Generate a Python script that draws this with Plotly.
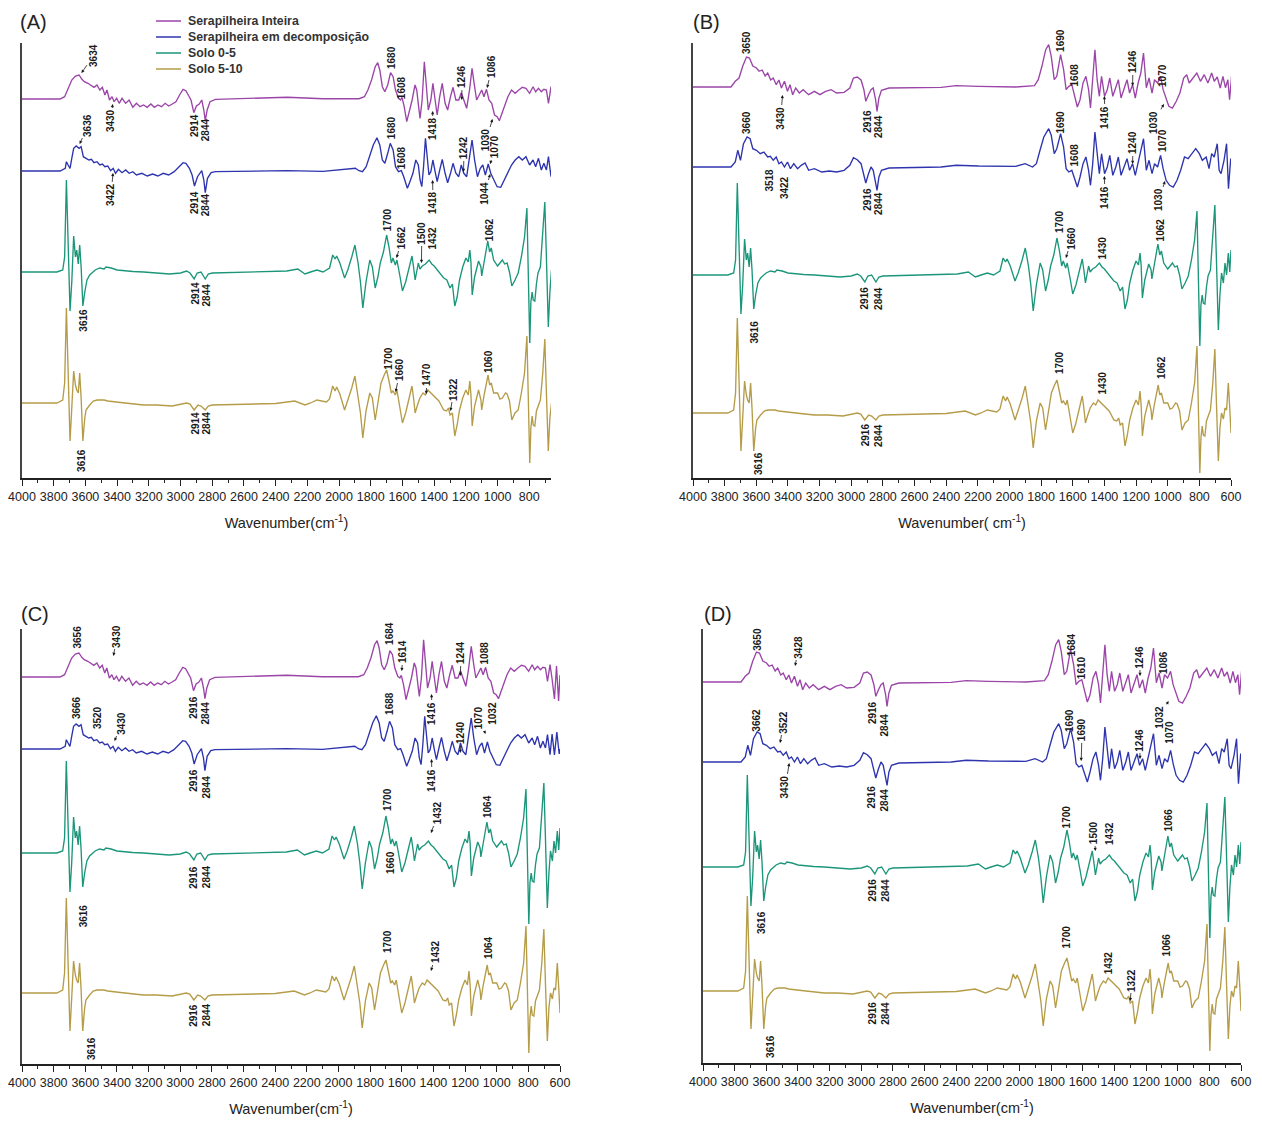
import plotly.graph_objects as go

# ---------------- data (wavenumber in cm-1, derivative intensity in arbitrary units) ----------------
SERIES = ["Serapilheira Inteira", "Serapilheira em decomposição", "Solo 0-5", "Solo 5-10"]

WN_PURPLE_A = [4000, 3760, 3731, 3709, 3686, 3663, 3640, 3622, 3607, 3584,
               3562, 3546, 3527, 3509, 3493, 3477, 3464, 3448, 3432, 3419,
               3403, 3387, 3369, 3346, 3324, 3301, 3278, 3256, 3233, 3210,
               3187, 3165, 3143, 3120, 3097, 3075, 3052, 3029, 3006, 2984,
               2966, 2950, 2934, 2916, 2900, 2882, 2866, 2853, 2844, 2832,
               2814, 2780, 2553, 2327, 2101, 1874, 1840, 1818, 1795, 1772,
               1756, 1743, 1727, 1711, 1693, 1675, 1659, 1644, 1625, 1612,
               1603, 1589, 1573, 1557, 1539, 1521, 1510, 1498, 1489, 1476,
               1462, 1449, 1437, 1421, 1408, 1394, 1381, 1365, 1349, 1331,
               1315, 1297, 1281, 1263, 1245, 1229, 1213, 1195, 1177, 1161,
               1145, 1132, 1116, 1100, 1086, 1070, 1054, 1037, 1019, 1003,
               989, 975, 959, 935, 912, 889, 866, 844, 821, 798,
               776, 760, 742, 724, 708, 692, 679, 663, 650, 635,
               622, 609, 600]
Y_PURPLE_A = [0, 0, 2.3, 10.7, 19, 23, 24, 19.7, 17.3, 15.7,
              13, 11.7, 14, 9, 11.7, 4, 9, -1, 2.3, -2.7,
              0.7, -4.3, 0.7, -4.3, -1, -8.3, -4.3, -7.7, -6, -8.3,
              -5, -8.3, -6, -7.7, -4.3, -7, -5, -2.7, 4, 9.7,
              8.3, 4, -1, -13.7, -7, -5, -1, -11, -21.7, -11,
              -2.7, -0.3, 0.7, 1.7, 0.3, 0.3, 2.3, 9, 19, 32.3,
              36.3, 29, 12.3, 7.3, 14, 26.3, 22.3, 9, 0.7, -1,
              1.7, -7.7, -22.7, -12.7, -1, 14, 9, -7.7, -19.3, -1,
              37.3, 12.3, -11, -1, 15.7, -1, -16, 2.3, 15.7, -4.3,
              -11, 2.3, 11.7, -1, -1, 6.3, -1, -9.3, 9, 30.7,
              12.3, -1, 4, 9, 2.3, 9.7, -1, -4.3, -16, -17.7,
              -21.7, -16, -7.7, 2.3, 9, 5.7, 9, 11.7, 10.7, 5.7,
              12.3, 7.3, 10.7, 7.3, 9.7, 9, -4.3, 12.3, -2, -22,
              11, -24, 2]

WN_BLUE_A = [4000, 3760, 3727, 3720, 3709, 3697, 3686, 3674, 3658, 3640,
             3627, 3613, 3596, 3578, 3562, 3546, 3527, 3509, 3493, 3477,
             3459, 3441, 3425, 3410, 3392, 3369, 3346, 3324, 3301, 3278,
             3244, 3210, 3176, 3143, 3109, 3075, 3040, 3006, 2984, 2966,
             2944, 2927, 2912, 2893, 2878, 2866, 2853, 2844, 2830, 2807,
             2780, 2553, 2327, 2101, 1920, 1897, 1874, 1852, 1829, 1806,
             1784, 1761, 1743, 1727, 1711, 1693, 1677, 1659, 1644, 1625,
             1607, 1592, 1569, 1553, 1534, 1516, 1500, 1489, 1478, 1467,
             1455, 1444, 1433, 1421, 1408, 1394, 1381, 1365, 1349, 1331,
             1315, 1297, 1281, 1263, 1245, 1229, 1213, 1195, 1177, 1161,
             1145, 1127, 1109, 1093, 1077, 1059, 1043, 1025, 1003, 980,
             957, 935, 912, 889, 866, 844, 821, 798, 776, 760,
             742, 724, 708, 692, 679, 663, 650, 635, 620, 605,
             600]
Y_BLUE_A = [0, 0, 2.7, 9.3, 6, 2.7, 12.7, 22.7, 25, 22.7,
            24.3, 14.3, 12.7, 11, 11.7, 8.3, 9.3, 6, 7, 4.3,
            5, 0.3, 2.7, -2.3, 1.7, -1.7, 1, -2.3, -0.7, -4,
            -2.3, -5, -3, -5, -2.3, -4, -0.7, 4.3, 8.3, 7.7,
            2.7, -4, -15, -5.7, -2.3, 0.3, -9, -21.7, -7.3, -1.7,
            -0.7, -0.3, 0.3, -0.3, 1.7, 2.7, 0.3, -0.7, 4.3, 14.3,
            26, 33.3, 26, 11, 7.7, 17.7, 27.7, 21, 4.3, -0.7,
            0.3, -5.7, -17.3, -10.7, -2.3, 11, 6, -9, -15.7, 4.3,
            32.7, 14.3, -4, -0.7, 11, -0.7, -10.7, 1, 11.7, -2.3,
            -11.7, -2.3, 7.7, -2.3, -5.7, 6, -2.3, -5.7, 14.3, 31,
            11, -5.7, 2.7, 6, -4, 7, -2.3, -9, -15.7, -16.3,
            -9, -0.7, 6, 11, 14.3, 11, 14.3, 6, 11, 4.3,
            12.7, 1, 7.7, 1, 14.3, -5.7, 15, -6, 17, -5,
            0]

WN_PURPLE_B = [4000, 3760, 3733, 3709, 3686, 3662, 3643, 3622, 3599, 3582,
               3563, 3544, 3528, 3509, 3493, 3474, 3457, 3441, 3422, 3403,
               3387, 3370, 3351, 3328, 3304, 3269, 3233, 3198, 3162, 3127,
               3092, 3045, 3009, 2986, 2962, 2938, 2920, 2908, 2891, 2875,
               2861, 2846, 2837, 2825, 2809, 2762, 2432, 2337, 2196, 1960,
               1842, 1818, 1795, 1771, 1752, 1736, 1717, 1701, 1677, 1658,
               1642, 1625, 1606, 1587, 1571, 1554, 1535, 1517, 1500, 1488,
               1474, 1460, 1446, 1432, 1418, 1399, 1382, 1366, 1347, 1328,
               1312, 1295, 1276, 1257, 1241, 1222, 1205, 1187, 1170, 1153,
               1135, 1118, 1099, 1083, 1064, 1045, 1029, 1010, 993, 970,
               946, 923, 899, 880, 864, 840, 816, 793, 769, 746,
               722, 706, 687, 668, 651, 635, 620, 609, 592]
Y_PURPLE_B = [0, 0, 5.7, 9, 20.7, 30, 29, 21, 19, 15.7,
              17, 11, 14, 7, 9, 2.3, 7, -1, 5.7, -4.3,
              2.3, -7.7, -1, -6, -2.7, -7.7, -4.3, -7.7, -4.3, -2.7,
              -6, -5.3, -1, 9, 10, 7, -2.7, -14.3, -7.7, -2.7,
              -1, -12.7, -24.3, -11, -3.3, -1, -0.3, 1.3, 0.7, 0,
              1.3, 7.3, 20.7, 37.3, 42.3, 30.7, 7.3, 10.7, 32.3, 17.3,
              -2.7, 0.7, 2.3, -11, -20, -12.7, 4, 10.7, -2.7, -21,
              4, 37.3, 7.3, -9.3, 10.7, -9.3, -2.7, 9, -9.3, -1,
              7.3, -11, -2.7, 7.3, -6, 2.3, -11, 4, 14, 34,
              -0.7, 9, -6, 7.3, 4, 10.7, -2.7, -12.7, -19.3, -21,
              -14.3, -6, 9, 12.3, 4, 9, 14, 5.7, 12.3, 4,
              14, 5.7, 10, -1, 10.7, -0.7, 7.3, -12.7, 19]

WN_BLUE_B = [4000, 3760, 3733, 3717, 3700, 3681, 3658, 3639, 3622, 3599,
             3575, 3552, 3528, 3511, 3493, 3474, 3457, 3441, 3422, 3403,
             3384, 3363, 3339, 3316, 3292, 3269, 3233, 3186, 3139, 3092,
             3045, 3009, 2986, 2962, 2938, 2920, 2908, 2891, 2875, 2861,
             2846, 2837, 2825, 2809, 2762, 2432, 2337, 2196, 1960, 1901,
             1854, 1830, 1807, 1783, 1752, 1736, 1717, 1701, 1677, 1658,
             1642, 1625, 1606, 1587, 1571, 1554, 1535, 1517, 1500, 1488,
             1474, 1460, 1446, 1432, 1418, 1399, 1382, 1366, 1347, 1328,
             1312, 1295, 1276, 1257, 1241, 1222, 1205, 1187, 1170, 1153,
             1135, 1118, 1099, 1083, 1064, 1045, 1029, 1010, 988, 965,
             941, 918, 894, 871, 847, 823, 800, 781, 757, 739,
             722, 706, 687, 675, 663, 644, 628, 616, 602, 588]
Y_BLUE_B = [0, 0, 5, 16.7, 6.7, 23.3, 30, 28.3, 18.3, 16.7,
            13.3, 15, 10, 10.7, 6.7, 10, 3.3, 5, 0, 5,
            -1.7, 3.3, -1.7, 1.7, 4, -3.3, -1.7, -5, -4, -5,
            -3.3, 1.7, 9.3, 7.3, 3.3, -6.7, -16, -6.7, 0, -3.3,
            -15, -23.3, -10, -3.3, -1, 0, 1.7, 1, 0.7, 3.3,
            0, 3.3, 16.7, 30, 38.3, 31.7, 13.3, 18.3, 33.3, 20,
            -1.7, -5, -3.3, -11.7, -20, -10, 3.3, 10, -3.3, -18.3,
            3.3, 35, 10, -6.7, 13.3, -6.7, 0, 11.7, -8.3, 0,
            10, -8.3, 0, 8.3, -3.3, 3.3, -8.3, 3.3, 15, 28.3,
            -3.3, 6.7, -6.7, 3.3, 0, 11.7, -1.7, -13.3, -18.3, -20,
            -13.3, -3.3, 10, 8.3, 13.3, 18.3, 13.3, 6.7, 10, -1.7,
            13.3, 10, 23.3, -3.3, -6.7, 6.7, 23.3, -21.7, 8.3, 6.7]

WN_SOIL_05 = [4000, 3780, 3743, 3731, 3720, 3709, 3697, 3686, 3674, 3663,
              3655, 3645, 3636, 3627, 3616, 3604, 3590, 3573, 3550, 3538,
              3510, 3482, 3470, 3437, 3400, 3350, 3300, 3233, 3150, 3070,
              3000, 2962, 2940, 2914, 2895, 2871, 2844, 2825, 2800, 2600,
              2400, 2330, 2260, 2215, 2180, 2140, 2101, 2060, 2040, 2025,
              2015, 1995, 1965, 1945, 1920, 1900, 1880, 1865, 1850, 1830,
              1806, 1790, 1772, 1755, 1740, 1720, 1700, 1685, 1670, 1660,
              1645, 1635, 1615, 1600, 1580, 1560, 1540, 1530, 1520, 1500,
              1490, 1475, 1455, 1432, 1415, 1400, 1370, 1340, 1320, 1300,
              1285, 1270, 1255, 1240, 1220, 1200, 1185, 1175, 1168, 1160,
              1145, 1120, 1105, 1100, 1085, 1062, 1050, 1040, 1025, 1000,
              985, 970, 955, 940, 925, 910, 890, 870, 850, 830,
              815, 806, 797, 790, 782, 775, 765, 755, 745, 730,
              715, 702, 692, 680, 670, 660, 648, 638, 628, 617,
              608, 600]
Y_SOIL_05 = [0, 0, 2, 15, 92, 40, -39, -10, 36, 15,
             22, 8, 27, 5, -34, -20, -8, -3, 1, 2,
             4, 3, 5, 4, 2, 1, 0.5, 0, -1, -2,
             -1, 1, -1, -7, -1, 0, -7, -2, -1, 0,
             0.5, 1, 3, -2, 0, 2, 0, 4, 17, 13,
             16, 9, -6, 2, 15, 27, 9, -10, -36, -10,
             12, 5, -16, -5, 9, 20, 37, 25, 9, 14,
             7, 12, -5, -19, -10, 2, 16, 5, -8, 9,
             3, 6, 8, 12, 8, 6, 0, -6, -8, -16,
             -12, -34, -25, -8, 5, 14, 10, 22, 10, -23,
             -5, 11, 5, -4, 10, 31, 20, 24, 12, 6,
             9, 12, 8, 9, 0, -14, -8, -1, 15, 35,
             64, 10, -71, -30, -20, -28, -29, -12, -1, 5,
             35, 70, 15, -55, -20, 2, -8, 12, 0, 22,
             3, 25]

WN_SOIL_510 = [4000, 3780, 3743, 3731, 3720, 3709, 3697, 3686, 3674, 3663,
               3655, 3645, 3636, 3627, 3616, 3604, 3596, 3573, 3550, 3527,
               3505, 3482, 3459, 3437, 3400, 3350, 3233, 3150, 3052, 2962,
               2940, 2914, 2890, 2871, 2844, 2825, 2800, 2600, 2400, 2280,
               2215, 2180, 2140, 2080, 2060, 2040, 2025, 2015, 1995, 1965,
               1945, 1920, 1900, 1880, 1865, 1850, 1830, 1806, 1790, 1772,
               1755, 1735, 1715, 1700, 1685, 1670, 1660, 1645, 1635, 1615,
               1600, 1580, 1560, 1540, 1530, 1520, 1505, 1490, 1470, 1455,
               1440, 1420, 1400, 1370, 1340, 1322, 1310, 1300, 1285, 1270,
               1255, 1240, 1220, 1200, 1185, 1175, 1168, 1160, 1145, 1120,
               1105, 1100, 1085, 1060, 1050, 1040, 1025, 1000, 985, 970,
               950, 940, 925, 910, 890, 870, 850, 830, 815, 806,
               797, 790, 782, 775, 765, 755, 745, 730, 715, 702,
               692, 680, 670, 660, 648, 638, 628, 617, 608, 600]
Y_SOIL_510 = [0, 0, 3, 20, 95, 40, -38, -5, 32, 18,
              13, 10, 30, 5, -38, -15, -7, -2, 2, 3,
              3, 3, 2, 1.5, 1, 0, -2, -2, -3, 0,
              -1, -7, -2, -3, -7, -3, -2, -1, -0.5, 2,
              -2, 0, 3, 1, 4, 17, 12, 16, 9, -7,
              2, 15, 27, 8, -10, -35, -8, 10, 5, -17,
              0, 20, 28, 33, 22, 10, 12, 8, 13, -5,
              -20, -10, 3, 17, 5, -10, -2, 5, 10, 8,
              13, 10, 7, 2, -7, -8, -5, -12, -10, -33,
              -22, -7, 5, 13, 8, 22, 8, -23, -3, 13,
              3, -7, 8, 28, 18, 20, 10, 10, 4, 5,
              10, 9, 2, -17, -10, -7, 10, 30, 67, 10,
              -60, -25, -13, -22, -23, -8, -3, 3, 30, 64,
              10, -48, -15, 0, -6, 5, 3, 30, 5, -20]

# peak labels: (text, label wavenumber, label height, arrow-tip wavenumber, arrow-tip height)
LABELS_A = [
    ("3634", 3546, 423, 3625, 405), ("3430", 3438, 357, 3428, 374), ("2914", 2909, 353, None, None),
    ("2844", 2838, 348, None, None), ("1680", 1666, 420, None, None), ("1608", 1602, 390, None, None),
    ("1418", 1407, 349, 1410, 367), ("1246", 1224, 401, 1226, 378), ("1086", 1035, 411, 1066, 390),
    ("3636", 3584, 353, 3636, 334), ("3422", 3438, 283, 3426, 305), ("2914", 2909, 276, None, None),
    ("2844", 2838, 273, None, None), ("1680", 1665, 350, None, None), ("1608", 1602, 320, None, None),
    ("1418", 1407, 275, 1410, 298), ("1242", 1211, 330, 1215, 306), ("1030", 1071, 338, 1032, 359),
    ("1070", 1015, 331, 1047, 314), ("1044", 1081, 285, 1047, 304), ("1700", 1690, 258, None, None),
    ("1662", 1602, 240, 1637, 220), ("1500", 1478, 245, 1480, 215), ("1432", 1410, 240, None, None),
    ("1062", 1047, 248, None, None), ("2914", 2905, 185, None, None), ("2844", 2830, 183, None, None),
    ("3616", 3611, 158, None, None), ("1700", 1686, 120, None, None), ("1660", 1615, 108, 1643, 86),
    ("1470", 1445, 103, 1450, 84), ("1322", 1275, 89, 1297, 67), ("1060", 1054, 116, None, None),
    ("2914", 2905, 55, None, None), ("2844", 2830, 55, None, None), ("3616", 3622, 18, None, None),
]
LABELS_B = [
    ("3650", 3659, 436, None, None), ("3430", 3446, 360, 3434, 383), ("2916", 2896, 357, None, None),
    ("2844", 2825, 352, None, None), ("1690", 1675, 438, None, None), ("1608", 1583, 403, None, None),
    ("1416", 1397, 361, 1400, 382), ("1246", 1219, 416, 1222, 392), ("1070", 1030, 403, None, None),
    ("1030", 1087, 356, 1024, 374), ("3660", 3659, 356, None, None), ("3518", 3516, 298, None, None),
    ("3422", 3418, 290, None, None), ("2916", 2896, 279, None, None), ("2844", 2825, 275, None, None),
    ("1690", 1677, 356, None, None), ("1608", 1583, 323, None, None), ("1240", 1219, 335, 1222, 314),
    ("1416", 1397, 281, 1400, 302), ("1030", 1055, 278, 1017, 297), ("1070", 1030, 338, None, None),
    ("1700", 1680, 256, None, None), ("1660", 1606, 240, 1643, 220), ("1430", 1406, 230, None, None),
    ("1062", 1040, 248, None, None), ("2916", 2910, 180, None, None), ("2844", 2825, 180, None, None),
    ("3616", 3611, 146, None, None), ("1700", 1680, 115, None, None), ("1430", 1406, 95, None, None),
    ("1062", 1036, 110, None, None), ("2916", 2905, 43, None, None), ("2844", 2825, 43, None, None),
    ("3616", 3583, 15, None, None),
]
LABELS_C = [
    ("3656", 3649, 427, None, None), ("3430", 3400, 428, 3422, 408), ("2916", 2914, 357, None, None),
    ("2844", 2840, 351, None, None), ("1684", 1675, 431, None, None), ("1614", 1592, 412, 1600, 393),
    ("1416", 1409, 351, 1412, 370), ("1244", 1225, 411, 1230, 388), ("1088", 1071, 411, None, None),
    ("3666", 3652, 356, None, None), ("3520", 3519, 346, None, None), ("3430", 3369, 341, 3415, 323),
    ("2916", 2914, 284, None, None), ("2844", 2834, 277, None, None), ("1688", 1675, 361, None, None),
    ("1416", 1409, 284, 1412, 305), ("1240", 1225, 331, 1230, 311), ("1070", 1110, 346, 1071, 330),
    ("1032", 1025, 351, None, None), ("1700", 1687, 264, None, None), ("1432", 1370, 251, 1415, 231),
    ("1064", 1055, 257, None, None), ("1660", 1668, 201, None, None), ("2916", 2914, 187, None, None),
    ("2844", 2830, 187, None, None), ("3616", 3606, 148, None, None), ("1700", 1687, 122, None, None),
    ("1432", 1383, 112, 1415, 93), ("1064", 1048, 116, None, None), ("2916", 2914, 49, None, None),
    ("2844", 2830, 49, None, None), ("3616", 3564, 16, None, None),
]
LABELS_D = [
    ("3650", 3654, 424, None, None), ("3428", 3395, 416, 3418, 397), ("2916", 2925, 350, None, None),
    ("2844", 2847, 338, None, None), ("1684", 1667, 418, None, None), ("1610", 1604, 395, None, None),
    ("1246", 1240, 406, 1238, 387), ("1086", 1087, 401, None, None), ("1032", 1114, 346, 1058, 362),
    ("3662", 3661, 343, None, None), ("3522", 3489, 341, 3513, 320), ("3430", 3479, 276, 3455, 300),
    ("2916", 2929, 266, None, None), ("2844", 2847, 263, None, None), ("1690", 1681, 343, None, None),
    ("1690", 1604, 333, 1610, 302), ("1246", 1240, 323, 1238, 304), ("1070", 1051, 331, None, None),
    ("1700", 1697, 246, None, None), ("1500", 1528, 230, 1520, 212), ("1432", 1428, 230, None, None),
    ("1066", 1058, 243, None, None), ("2916", 2923, 173, None, None), ("2844", 2845, 173, None, None),
    ("3616", 3627, 140, None, None), ("1700", 1697, 126, None, None), ("1432", 1432, 100, None, None),
    ("1322", 1289, 83, 1300, 62), ("1066", 1065, 118, None, None), ("2916", 2923, 50, None, None),
    ("2844", 2845, 50, None, None), ("3616", 3577, 17, None, None),
]

# ---------------- layout / style ----------------
PAGE_MARGIN = 8                      # default <body> margin of the page the html opens in
W, H = 1262 - PAGE_MARGIN, 1122 - PAGE_MARGIN
COLORS = ["#9B45A8", "#2D34AE", "#1B967A", "#B59C48"]
FONT = "Arial, Liberation Sans, sans-serif"
INK = "#222222"


def fx(px):
    return (px - PAGE_MARGIN) / W


def fy(py):
    return 1 - (py - PAGE_MARGIN) / H


LITTER = {
    "A": ((WN_PURPLE_A, Y_PURPLE_A), (WN_BLUE_A, Y_BLUE_A)),
    "B": ((WN_PURPLE_B, Y_PURPLE_B), (WN_BLUE_B, Y_BLUE_B)),
}
SOIL = ((WN_SOIL_05, Y_SOIL_05), (WN_SOIL_510, Y_SOIL_510))

PANELS = [
    dict(tag="(A)", x0=22, x1=551, top=43, bottom=478, xend=663, offsets=[379, 307, 206, 75],
         litter="A", labels=LABELS_A, title="Wavenumber(cm<sup>-1</sup>)", tagpos=(33, 22)),
    dict(tag="(B)", x0=693, x1=1231, top=43, bottom=478, xend=600, offsets=[391, 311, 203, 65],
         litter="B", labels=LABELS_B, title="Wavenumber( cm<sup>-1</sup>)", tagpos=(706, 22)),
    dict(tag="(C)", x0=22, x1=560, top=629, bottom=1064, xend=600, offsets=[387, 315, 211, 71],
         litter="A", labels=LABELS_C, title="Wavenumber(cm<sup>-1</sup>)", tagpos=(35, 614)),
    dict(tag="(D)", x0=703, x1=1241, top=629, bottom=1063, xend=600, offsets=[381, 301, 196, 72],
         litter="B", labels=LABELS_D, title="Wavenumber(cm<sup>-1</sup>)", tagpos=(718, 614)),
]
LEGEND_LINE_X = (156, 181)
LEGEND_TEXT_X = 186
LEGEND_ROWS_Y = [21, 37, 53, 69]

fig = go.Figure()
annotations = []
shapes = []
layout_axes = {}

for i, p in enumerate(PANELS):
    n = "" if i == 0 else str(i + 1)
    xa, ya = "x" + n, "y" + n
    spectra = list(LITTER[p["litter"]]) + list(SOIL)
    for k, (wn, val) in enumerate(spectra):
        assert len(wn) == len(val)
        fig.add_trace(go.Scatter(
            x=wn, y=[p["offsets"][k] + v for v in val], mode="lines",
            name=SERIES[k], showlegend=False, xaxis=xa, yaxis=ya,
            line=dict(color=COLORS[k], width=1.35), hoverinfo="skip"))

    height = p["bottom"] - p["top"]
    layout_axes["xaxis" + n] = dict(
        domain=[fx(p["x0"]), fx(p["x1"])], range=[4000, p["xend"]], anchor=ya,
        tickmode="linear", tick0=0, dtick=200, ticks="outside", ticklen=6, tickwidth=1.3,
        tickcolor=INK, showline=True, linecolor=INK, linewidth=1.5, showgrid=False,
        zeroline=False, automargin=False,
        minor=dict(tick0=0, dtick=100, ticks="outside", ticklen=3.5, tickwidth=1.2,
                   tickcolor=INK, showgrid=False),
        tickfont=dict(family=FONT, size=12.5, color=INK),
        title=dict(text=p["title"], font=dict(family=FONT, size=14.5, color=INK), standoff=15))
    layout_axes["yaxis" + n] = dict(
        domain=[fy(p["bottom"]), fy(p["top"])], range=[0, height], anchor=xa,
        showline=True, linecolor="#444444", linewidth=1.8, ticks="", showticklabels=False,
        showgrid=False, zeroline=False, automargin=False)

    tx, ty = p["tagpos"]
    annotations.append(dict(text=p["tag"], xref="paper", yref="paper", x=fx(tx), y=fy(ty),
                            xanchor="center", yanchor="middle", showarrow=False,
                            font=dict(family=FONT, size=20, color=INK)))
    top_ok = height - 2          # keep the anchor inside the axis range so the label is drawn
    for (txt, lx, ly, tipx, tipy) in p["labels"]:
        base = dict(text=txt, textangle=-90, xref=xa, yref=ya,
                    font=dict(family=FONT, size=10, color="#1a1a1a", weight="bold"))
        if tipx is None:
            yy = min(ly, top_ok)
            base.update(x=lx, y=yy, yshift=ly - yy, showarrow=False)
        else:
            base.update(x=tipx, y=tipy, ax=lx, ay=ly, axref=xa, ayref=ya, showarrow=True,
                        arrowhead=2, arrowsize=0.8, arrowwidth=0.8, arrowcolor="#1a1a1a",
                        standoff=0, startstandoff=0)
        annotations.append(base)

# legend (drawn as keyed lines + labels at the reference position)
for k, name in enumerate(SERIES):
    yy = fy(LEGEND_ROWS_Y[k])
    shapes.append(dict(type="line", xref="paper", yref="paper",
                       x0=fx(LEGEND_LINE_X[0]), x1=fx(LEGEND_LINE_X[1]), y0=yy, y1=yy,
                       line=dict(color=COLORS[k], width=1.5)))
    annotations.append(dict(text=name, xref="paper", yref="paper", x=fx(LEGEND_TEXT_X), y=yy,
                            xanchor="left", yanchor="middle", showarrow=False,
                            font=dict(family=FONT, size=12.3, color="#333333", weight="bold")))

fig.update_layout(
    width=W, height=H, margin=dict(l=0, r=0, t=0, b=0),
    paper_bgcolor="white", plot_bgcolor="white", showlegend=False,
    annotations=annotations, shapes=shapes,
    **layout_axes)

fig.write_html("out.html")
